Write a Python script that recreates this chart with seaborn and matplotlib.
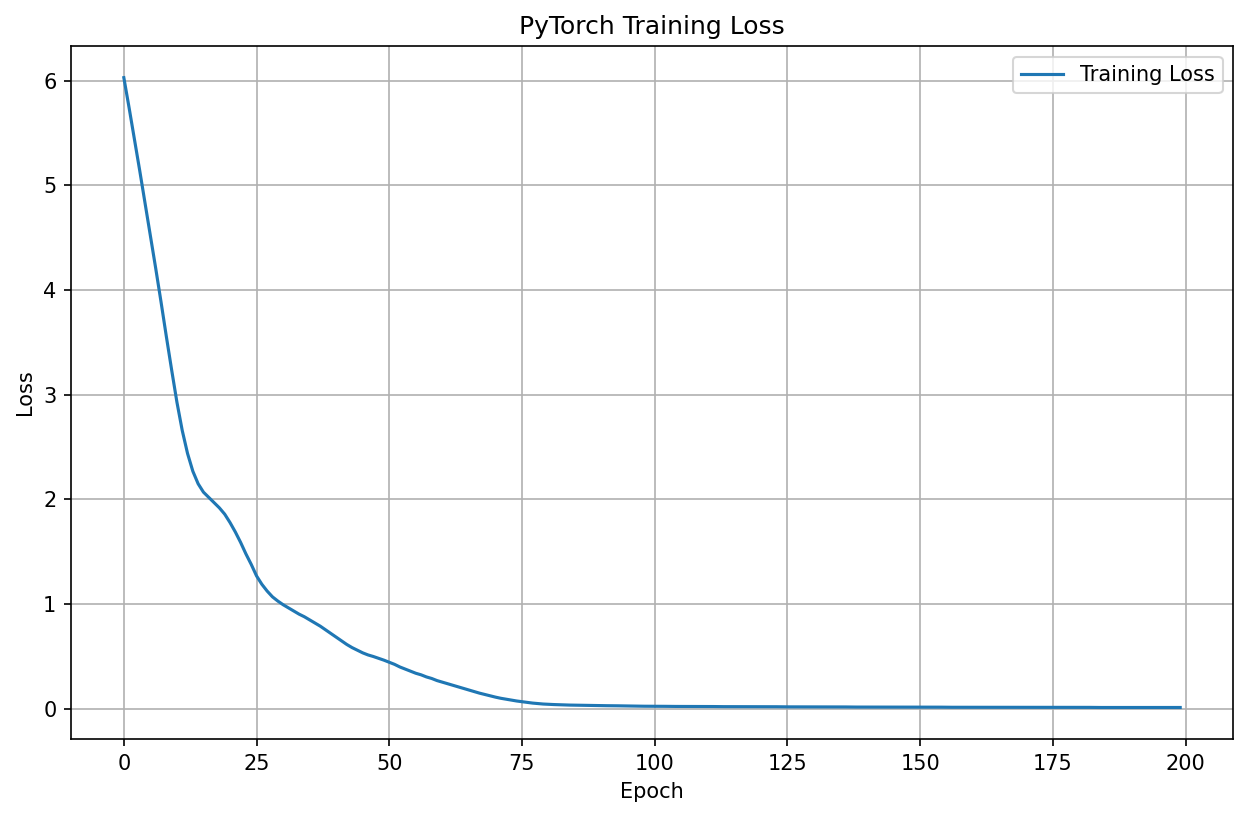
import matplotlib
matplotlib.use("Agg")
import matplotlib.pyplot as plt
import seaborn as sns
import numpy as np
import pandas as pd

loss_values = [
    6.03, 5.74, 5.44, 5.14, 4.83, 4.52, 4.21, 3.89, 3.56, 3.24,
    2.93, 2.66, 2.44, 2.27, 2.15, 2.07, 2.02, 1.97, 1.92, 1.86,
    1.78, 1.69, 1.59, 1.48, 1.38, 1.27, 1.19, 1.125, 1.07, 1.03,
    0.995, 0.965, 0.935, 0.905, 0.88, 0.85, 0.82, 0.79, 0.755, 0.72,
    0.685, 0.65, 0.615, 0.585, 0.56, 0.535, 0.515, 0.50, 0.483, 0.465,
    0.445, 0.425, 0.40, 0.38, 0.36, 0.34, 0.325, 0.305, 0.29, 0.27,
    0.255, 0.24, 0.225, 0.21, 0.195, 0.18, 0.165, 0.15, 0.137, 0.124,
    0.112, 0.101, 0.092, 0.083, 0.075, 0.068, 0.061, 0.055, 0.050, 0.046,
    0.043, 0.041, 0.039, 0.037, 0.036, 0.035, 0.034, 0.033, 0.033, 0.032,
    0.031, 0.030, 0.030, 0.029, 0.028, 0.027, 0.027, 0.026, 0.025, 0.025,
    0.024, 0.024, 0.024, 0.023, 0.023, 0.023, 0.023, 0.022, 0.022, 0.022,
    0.022, 0.022, 0.021, 0.021, 0.021, 0.021, 0.021, 0.020, 0.020, 0.020,
    0.020, 0.020, 0.020, 0.020, 0.019, 0.019, 0.019, 0.019, 0.019, 0.019,
    0.018, 0.018, 0.018, 0.018, 0.018, 0.018, 0.018, 0.017, 0.017, 0.017,
    0.017, 0.017, 0.017, 0.017, 0.017, 0.016, 0.016, 0.016, 0.016, 0.016,
    0.016, 0.016, 0.016, 0.016, 0.016, 0.015, 0.015, 0.015, 0.015, 0.015,
    0.015, 0.015, 0.015, 0.015, 0.015, 0.015, 0.015, 0.014, 0.014, 0.014,
    0.014, 0.014, 0.014, 0.014, 0.014, 0.014, 0.014, 0.014, 0.014, 0.014,
    0.014, 0.014, 0.014, 0.013, 0.013, 0.013, 0.013, 0.013, 0.013, 0.013,
    0.013, 0.013, 0.013, 0.013, 0.013, 0.013, 0.013, 0.013, 0.013, 0.013,
]
epochs = list(range(len(loss_values)))

title = "PyTorch Training Loss"
x_label = "Epoch"
y_label = "Loss"
series_label = "Training Loss"

df = pd.DataFrame({"Epoch": epochs, "Loss": loss_values})

fig = plt.figure(figsize=(8.32, 5.4467), dpi=150)
ax = fig.add_axes([0.0569, 0.0955, 0.9311, 0.848])
sns.lineplot(data=df, x="Epoch", y="Loss", ax=ax, color="#1f77b4",
             linewidth=1.5, label=series_label)
ax.set_title(title)
ax.set_xlabel(x_label)
ax.set_ylabel(y_label)
ax.grid(True)
ax.legend(loc="upper right")
fig.savefig("out.png", dpi=150)
